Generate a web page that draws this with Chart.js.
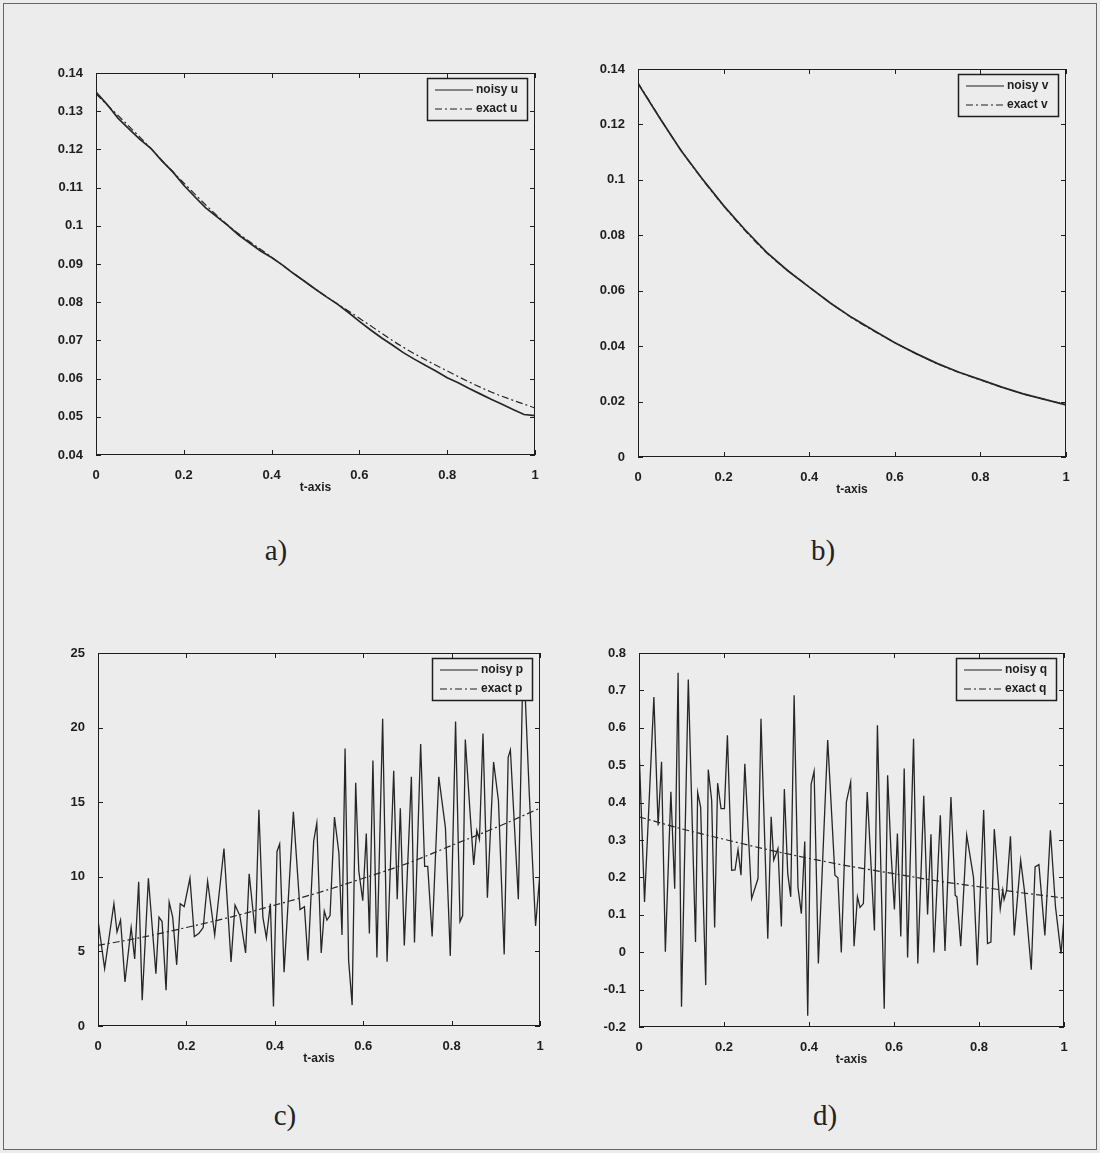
<!DOCTYPE html>
<html>
<head>
<meta charset="utf-8">
<script src="https://cdn.jsdelivr.net/npm/chart.js@4"></script>
<style>
  body { margin: 0; background: #ececec; }
  #page { position: relative; width: 1100px; height: 1153px; background: #ececec; overflow: hidden; }
  #frame { position: absolute; left: 3px; top: 3px; width: 1092px; height: 1145px; border: 1px solid #666; }
  canvas { position: absolute; }
  .cap { position: absolute; font-family: "Liberation Serif", "Times New Roman", serif; font-size: 29px; color: #222; transform: translate(-50%, -50%); }
</style>
</head>
<body>
<div id="page">
  <div id="frame"></div>
  <canvas id="chartU" width="519" height="442" style="left:36px;top:53px"></canvas>
  <canvas id="chartV" width="508" height="448" style="left:578px;top:49px"></canvas>
  <canvas id="chartP" width="522" height="433" style="left:38px;top:633px"></canvas>
  <canvas id="chartQ" width="505" height="434" style="left:579px;top:633px"></canvas>
  <div class="cap" style="left:276px;top:550px">a)</div>
  <div class="cap" style="left:823px;top:550px">b)</div>
  <div class="cap" style="left:285px;top:1115px">c)</div>
  <div class="cap" style="left:825px;top:1115px">d)</div>
</div>
<script>
// time grids
const tTenth = [0, 0.1, 0.2, 0.3, 0.4, 0.5, 0.6, 0.7, 0.8, 0.9, 1];
const uT = [0, 0.025, 0.05, 0.075, 0.1, 0.125, 0.15, 0.175, 0.2, 0.225, 0.25, 0.275, 0.3, 0.325, 0.35, 0.375, 0.4, 0.425, 0.45, 0.475,
  0.5, 0.525, 0.55, 0.575, 0.6, 0.625, 0.65, 0.675, 0.7, 0.725, 0.75, 0.775, 0.8, 0.825, 0.85, 0.875, 0.9, 0.925, 0.95, 0.975, 1];
const vT = [0, 0.05, 0.1, 0.15, 0.2, 0.25, 0.3, 0.35, 0.4, 0.45, 0.5, 0.55, 0.6, 0.65, 0.7, 0.75, 0.8, 0.85, 0.9, 0.95, 1];

// u
const noisyU = [0.1350, 0.1318, 0.1282, 0.1254, 0.1226, 0.1203, 0.1170, 0.1141, 0.1106, 0.1076, 0.1047, 0.1024, 0.1001, 0.0976,
  0.0955, 0.0934, 0.0917, 0.0897, 0.0875, 0.0855, 0.0834, 0.0814, 0.0795, 0.0773, 0.0750, 0.0728, 0.0707, 0.0688, 0.0668,
  0.0651, 0.0635, 0.0619, 0.0602, 0.0589, 0.0574, 0.0560, 0.0546, 0.0533, 0.0519, 0.0506, 0.0503];
const exactU = [0.1345, 0.1232, 0.1112, 0.1002, 0.0918, 0.0834, 0.0758, 0.0682, 0.0620, 0.0565, 0.0523];

// v
const noisyV = [0.1348, 0.1225, 0.1107, 0.1004, 0.0907, 0.0820, 0.0739, 0.0672, 0.0613, 0.0555, 0.0503, 0.0457, 0.0412,
  0.0373, 0.0337, 0.0306, 0.0279, 0.0252, 0.0228, 0.0208, 0.0188];
const exactV = [0.1350, 0.1108, 0.0906, 0.0738, 0.0614, 0.0502, 0.0413, 0.0336, 0.0278, 0.0228, 0.0189];

// p
const pT = [0, 0.015, 0.036, 0.043, 0.051, 0.061, 0.075, 0.083, 0.092, 0.100, 0.114, 0.131, 0.138, 0.145, 0.154, 0.161, 0.169,
  0.178, 0.186, 0.195, 0.208, 0.218, 0.228, 0.238, 0.248, 0.264, 0.285, 0.301, 0.310, 0.321, 0.334, 0.342, 0.356, 0.364, 0.373,
  0.381, 0.390, 0.397, 0.405, 0.411, 0.421, 0.442, 0.457, 0.467, 0.475, 0.488, 0.495, 0.505, 0.512, 0.518, 0.525, 0.535, 0.545,
  0.552, 0.559, 0.567, 0.575, 0.583, 0.590, 0.599, 0.607, 0.614, 0.622, 0.631, 0.644, 0.654, 0.669, 0.677, 0.684, 0.693, 0.709,
  0.716, 0.730, 0.739, 0.746, 0.756, 0.771, 0.786, 0.797, 0.809, 0.819, 0.825, 0.831, 0.842, 0.850, 0.857, 0.863, 0.871, 0.881,
  0.895, 0.906, 0.919, 0.928, 0.933, 0.951, 0.960, 0.967, 0.976, 0.990, 1.0];
const noisyP = [7.1, 3.85, 8.2, 6.3, 7.1, 2.95, 6.6, 4.5, 9.66, 1.72, 9.9, 3.5, 7.3, 7.0, 2.4, 8.3, 7.3, 4.1, 8.2, 8.0, 9.9, 6.0,
  6.2, 6.6, 9.7, 6.1, 11.9, 4.3, 8.1, 7.4, 4.9, 10.2, 6.2, 14.5, 7.3, 5.9, 8.2, 1.3, 11.7, 12.2, 3.6, 14.35, 7.8, 8.0, 4.4, 12.4,
  13.6, 4.9, 7.7, 7.1, 7.4, 14.0, 11.6, 6.1, 18.6, 4.4, 1.4, 16.3, 10.4, 8.4, 12.9, 6.2, 17.8, 4.6, 20.6, 4.3, 17.1, 8.5, 14.6,
  5.4, 16.7, 5.6, 18.9, 10.7, 10.7, 6.0, 16.7, 13.3, 4.7, 20.4, 7.0, 7.4, 19.2, 14.2, 10.8, 13.1, 12.5, 19.6, 8.6, 17.7, 15.1,
  4.8, 18.0, 18.5, 8.5, 22.0, 21.8, 15.4, 6.7, 10.3];
const exactP = [5.4, 5.95, 6.6, 7.3, 8.1, 8.95, 9.9, 10.9, 12.1, 13.3, 14.6];

// q
const qT = [0, 0.013, 0.035, 0.045, 0.053, 0.062, 0.075, 0.084, 0.092, 0.100, 0.116, 0.133, 0.138, 0.145, 0.157, 0.163, 0.171,
  0.178, 0.185, 0.193, 0.201, 0.208, 0.218, 0.226, 0.233, 0.240, 0.249, 0.265, 0.280, 0.287, 0.303, 0.311, 0.317, 0.327, 0.335,
  0.342, 0.350, 0.357, 0.365, 0.374, 0.382, 0.390, 0.397, 0.405, 0.412, 0.422, 0.444, 0.461, 0.468, 0.476, 0.488, 0.498, 0.506,
  0.514, 0.520, 0.528, 0.537, 0.554, 0.561, 0.577, 0.585, 0.593, 0.601, 0.608, 0.616, 0.624, 0.632, 0.646, 0.656, 0.670, 0.679,
  0.687, 0.694, 0.709, 0.720, 0.734, 0.744, 0.748, 0.757, 0.771, 0.787, 0.796, 0.811, 0.820, 0.828, 0.836, 0.850, 0.856, 0.859,
  0.865, 0.874, 0.883, 0.898, 0.907, 0.923, 0.932, 0.941, 0.955, 0.968, 0.980, 0.993, 1.0];
const noisyQ = [0.549, 0.134, 0.682, 0.339, 0.509, 0.001, 0.429, 0.170, 0.747, -0.146, 0.729, 0.027, 0.427, 0.388, -0.088, 0.488,
  0.406, 0.066, 0.452, 0.384, 0.384, 0.580, 0.219, 0.220, 0.274, 0.206, 0.504, 0.143, 0.197, 0.624, 0.036, 0.362, 0.246, 0.277,
  0.069, 0.436, 0.210, 0.148, 0.687, 0.174, 0.103, 0.296, -0.170, 0.449, 0.484, -0.030, 0.567, 0.206, 0.199, -0.001, 0.402, 0.455,
  0.016, 0.148, 0.120, 0.130, 0.428, 0.058, 0.607, -0.151, 0.473, 0.266, 0.114, 0.317, 0.042, 0.491, -0.014, 0.571, -0.030, 0.418,
  0.101, 0.315, -0.001, 0.366, 0.003, 0.415, 0.152, 0.148, 0.016, 0.313, 0.201, -0.035, 0.380, 0.023, 0.027, 0.329, 0.116, 0.166,
  0.141, 0.166, 0.310, 0.045, 0.246, 0.164, -0.047, 0.228, 0.234, 0.045, 0.326, 0.121, -0.004, 0.094];
const exactQ = [0.362, 0.330, 0.302, 0.275, 0.251, 0.229, 0.210, 0.191, 0.175, 0.159, 0.145];

const INK = '#1e1e1e';
Chart.defaults.font.family = '"Liberation Sans", Arial, sans-serif';
Chart.defaults.font.size = 13;
Chart.defaults.font.weight = 'bold';
Chart.defaults.color = INK;

const fmt = v => String(parseFloat(Number(v).toFixed(4)));
const pts = (xs, ys) => xs.map((x, i) => ({ x, y: ys[i] }));

// matlab-like box: frame, inward ticks on all sides, legend in the upper right corner
const boxAxes = {
  id: 'boxAxes',
  afterDatasetsDraw(chart) {
    const { ctx, chartArea: a, scales: { x, y } } = chart;
    ctx.save();
    ctx.strokeStyle = INK;
    ctx.lineWidth = 1;
    ctx.setLineDash([]);
    ctx.strokeRect(a.left + 0.5, a.top + 0.5, a.right - a.left - 1, a.bottom - a.top - 1);
    ctx.beginPath();
    x.ticks.forEach(t => {
      const px = Math.round(x.getPixelForValue(t.value)) + 0.5;
      ctx.moveTo(px, a.bottom); ctx.lineTo(px, a.bottom - 5);
      ctx.moveTo(px, a.top); ctx.lineTo(px, a.top + 5);
    });
    y.ticks.forEach(t => {
      const py = Math.round(y.getPixelForValue(t.value)) + 0.5;
      ctx.moveTo(a.left, py); ctx.lineTo(a.left + 5, py);
      ctx.moveTo(a.right, py); ctx.lineTo(a.right - 5, py);
    });
    ctx.stroke();

    const bw = 100, bh = 42;
    const bx = a.right - 8 - bw, by = a.top + 5;
    ctx.fillStyle = '#ececec';
    ctx.fillRect(bx, by, bw, bh);
    ctx.lineWidth = 1.5;
    ctx.strokeRect(bx + 0.5, by + 0.5, bw, bh);
    ctx.font = 'bold 12px "Liberation Sans", Arial, sans-serif';
    ctx.textBaseline = 'middle';
    chart.data.datasets.forEach((ds, i) => {
      const ry = by + 12 + i * 19;
      ctx.beginPath();
      ctx.lineWidth = 1.1;
      ctx.setLineDash(ds.borderDash || []);
      ctx.moveTo(bx + 8, ry); ctx.lineTo(bx + 46, ry);
      ctx.stroke();
      ctx.setLineDash([]);
      ctx.fillStyle = INK;
      ctx.fillText(ds.label, bx + 49, ry);
    });
    ctx.restore();
  }
};

function makeChart(id, sets, yMin, yMax, yStep, lw) {
  new Chart(document.getElementById(id), {
    type: 'line',
    data: {
      datasets: [
        { label: sets.noisyLabel, data: sets.noisy, borderColor: '#262626', borderWidth: lw, pointRadius: 0, tension: 0 },
        { label: sets.exactLabel, data: sets.exact, borderColor: '#262626', borderWidth: 1.2, borderDash: [7, 3, 2, 3],
          pointRadius: 0, cubicInterpolationMode: 'monotone' }
      ]
    },
    options: {
      responsive: false,
      animation: false,
      layout: { padding: { left: 0, top: 20, right: 20, bottom: 0 } },
      plugins: { legend: { display: false }, tooltip: { enabled: false } },
      scales: {
        x: {
          type: 'linear', min: 0, max: 1,
          grid: { display: false }, border: { display: false },
          ticks: { stepSize: 0.2, padding: 5, maxRotation: 0, callback: fmt },
          title: { display: true, text: 't-axis', font: { size: 12, weight: 'bold' }, padding: { top: 4, bottom: 0 } },
          afterFit: s => { s.height = 40; }
        },
        y: {
          min: yMin, max: yMax,
          grid: { display: false }, border: { display: false },
          ticks: { stepSize: yStep, padding: 5, callback: fmt },
          afterFit: s => { s.width = 60; }
        }
      }
    },
    plugins: [boxAxes]
  });
}

makeChart('chartU', { noisyLabel: 'noisy u', exactLabel: 'exact u', noisy: pts(uT, noisyU), exact: pts(tTenth, exactU) }, 0.04, 0.14, 0.01, 1.7);
makeChart('chartV', { noisyLabel: 'noisy v', exactLabel: 'exact v', noisy: pts(vT, noisyV), exact: pts(tTenth, exactV) }, 0, 0.14, 0.02, 1.7);
makeChart('chartP', { noisyLabel: 'noisy p', exactLabel: 'exact p', noisy: pts(pT, noisyP), exact: pts(tTenth, exactP) }, 0, 25, 5, 1.3);
makeChart('chartQ', { noisyLabel: 'noisy q', exactLabel: 'exact q', noisy: pts(qT, noisyQ), exact: pts(tTenth, exactQ) }, -0.2, 0.8, 0.1, 1.3);
</script>
</body>
</html>
